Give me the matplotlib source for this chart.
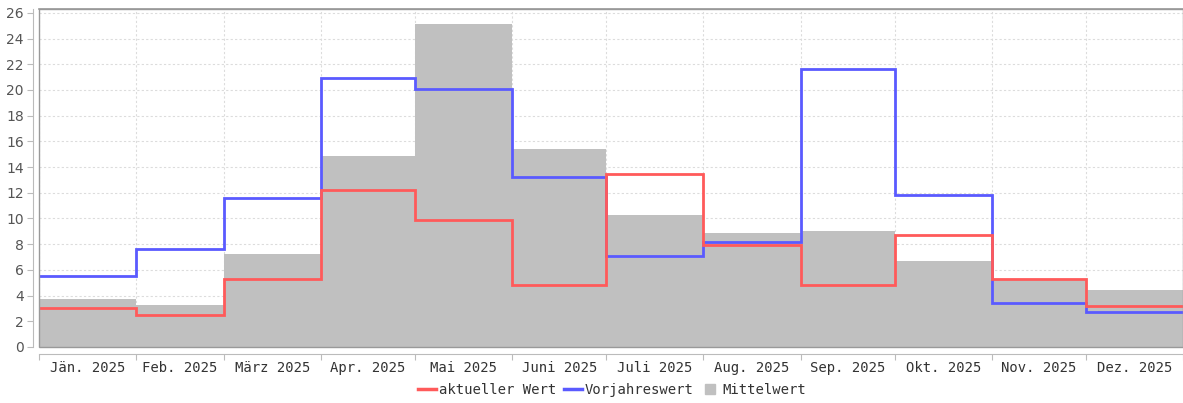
import datetime as dt
import matplotlib
matplotlib.use("Agg")
import matplotlib.pyplot as plt
import matplotlib.dates as mdates
from matplotlib.ticker import FixedLocator, FixedFormatter, NullFormatter
from matplotlib.lines import Line2D
from matplotlib.patches import Rectangle

months = ["Jän. 2025", "Feb. 2025", "März 2025", "Apr. 2025", "Mai 2025", "Juni 2025",
          "Juli 2025", "Aug. 2025", "Sep. 2025", "Okt. 2025", "Nov. 2025", "Dez. 2025"]
aktueller_wert = [3.0, 2.5, 5.3, 12.2, 9.9, 4.8, 13.5, 7.9, 4.8, 8.7, 5.3, 3.2]
vorjahreswert = [5.5, 7.6, 11.6, 20.9, 20.1, 13.2, 7.1, 8.2, 21.6, 11.8, 3.4, 2.7]
mittelwert = [3.7, 3.3, 7.2, 14.9, 25.1, 15.4, 10.3, 8.9, 9.0, 6.7, 5.3, 4.4]
y_ticks = list(range(0, 27, 2))

edges_dt = [dt.date(2025, m, 1) for m in range(1, 13)] + [dt.date(2026, 1, 1)]
edges = mdates.date2num(edges_dt)
mids = [(edges[i] + edges[i + 1]) / 2 for i in range(12)]

W, H = 1183, 403
fig = plt.figure(figsize=(W / 100, H / 100), dpi=100)
ax = fig.add_axes([39 / W, (H - 347) / H, (1183 - 39) / W, (347 - 9) / H])

red = "#ff5a5a"
blue = "#5a5aff"
grey = "#c0c0c0"

ax.stairs(mittelwert, edges, fill=True, color=grey, zorder=1, linewidth=0)
ax.stairs(aktueller_wert, edges, baseline=None, color=red, linewidth=2.0, zorder=3)
ax.stairs(vorjahreswert, edges, baseline=None, color=blue, linewidth=2.0, zorder=2)

ax.set_xlim(edges[0], edges[-1])
ax.set_ylim(0, 26.3)

ax.xaxis.set_major_locator(FixedLocator(edges))
ax.xaxis.set_major_formatter(NullFormatter())
ax.xaxis.set_minor_locator(FixedLocator(mids))
ax.xaxis.set_minor_formatter(FixedFormatter(months))
ax.tick_params(axis="x", which="minor", length=0, pad=5, labelsize=10,
               labelcolor="#333333", labelfontfamily="DejaVu Sans Mono")
ax.tick_params(axis="x", which="major", length=4, color="#bbbbbb", direction="out")

ax.set_yticks(y_ticks)
ax.set_yticklabels([str(v) for v in y_ticks])
ax.tick_params(axis="y", length=4, color="#bbbbbb", pad=3, labelsize=10,
               labelcolor="#555555", labelfontfamily="DejaVu Sans")

ax.set_axisbelow(True)
ax.grid(True, which="major", color="#dcdcdc", linestyle=(0, (2, 2)), linewidth=0.8)

ax.spines["right"].set_visible(False)
ax.spines["left"].set_position(("outward", 4))
ax.spines["bottom"].set_position(("outward", 5))
ax.spines["left"].set_color("#bbbbbb")
ax.spines["bottom"].set_color("#bbbbbb")
ax.spines["top"].set_color("#999999")
ax.spines["top"].set_linewidth(1.2)

# plot area frame
ax.add_patch(Rectangle((0, 0), 1, 1, transform=ax.transAxes, fill=False,
                       edgecolor="#999999", linewidth=1.0, zorder=4, clip_on=False))

handles = [Line2D([], [], color=red, linewidth=2.5),
           Line2D([], [], color=blue, linewidth=2.5),
           Line2D([], [], color=grey, marker="s", linestyle="none", markersize=7)]
labels = ["aktueller Wert", "Vorjahreswert", "Mittelwert"]
fig.legend(handles, labels, loc="center", bbox_to_anchor=(612 / W, 1 - 390 / H), ncol=3,
           frameon=False, prop={"family": "DejaVu Sans Mono", "size": 10},
           handlelength=1.3, handletextpad=0.25, columnspacing=0.5,
           labelcolor="#333333")

fig.savefig("out.png", dpi=100)
